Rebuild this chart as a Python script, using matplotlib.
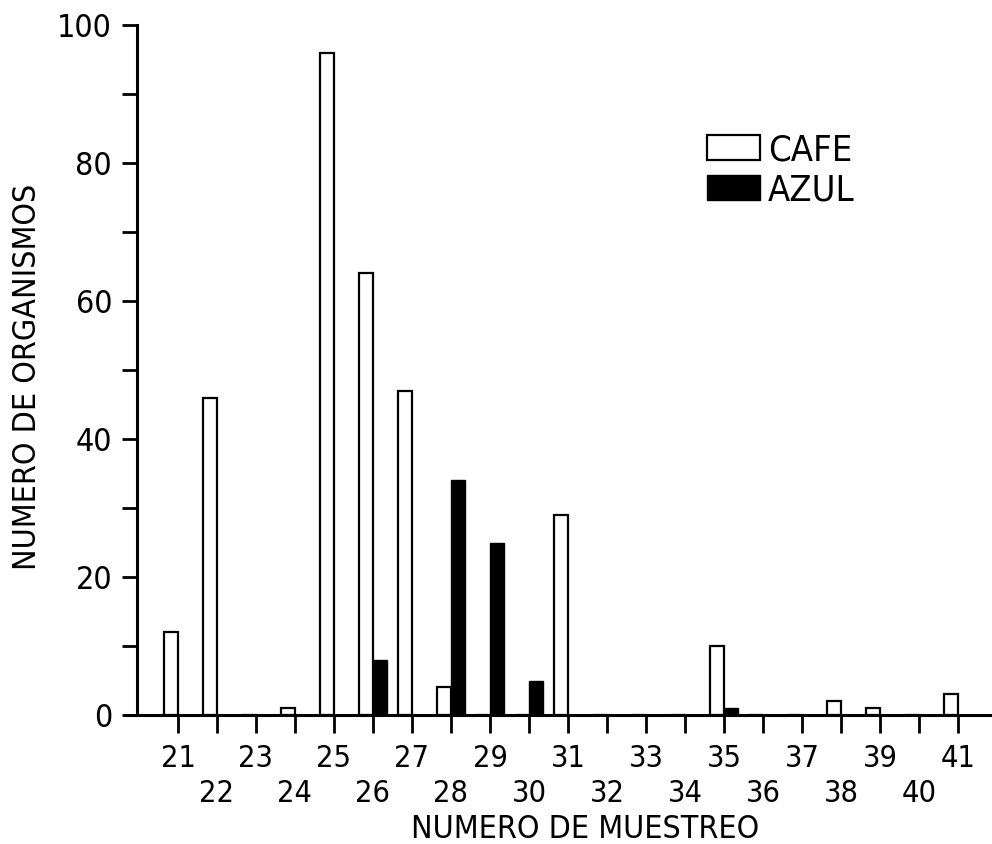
import matplotlib.pyplot as plt
import numpy as np
from matplotlib.patches import Patch

# datos
muestreo = list(range(21, 42))
cafe = [12, 46, 0, 1, 96, 64, 47, 4, 0, 0, 29, 0, 0, 0, 10, 0, 0, 2, 1, 0, 3]
azul = [0, 0, 0, 0, 0, 8, 0, 34, 25, 5, 0, 0, 0, 0, 1, 0, 0, 0, 0, 0, 0]
y_ticks = [0, 20, 40, 60, 80, 100]

plt.rcParams['font.family'] = ['DejaVu Sans']
plt.rcParams['font.stretch'] = 'condensed'

fig = plt.figure(figsize=(9.92, 8.44), dpi=100)
ax = fig.add_axes([137 / 992, 1 - 715 / 844, 1 - 137 / 992, (715 - 25) / 844])

x = np.array(muestreo)
width = 0.37
ax.bar(x - width, cafe, width, align='edge', facecolor='white', edgecolor='black', linewidth=1.6)
ax.bar(x, azul, width, align='edge', facecolor='black', edgecolor='black', linewidth=1.0)

ax.set_xlim(19.95, 41.87)
ax.set_ylim(0, 100)

for s in ['top', 'right']:
    ax.spines[s].set_visible(False)
ax.spines['left'].set_linewidth(2.2)
ax.spines['bottom'].set_linewidth(2.2)
ax.spines['bottom'].set_bounds(19.65, 41.87)

# eje y: mayores con etiqueta, menores sin etiqueta
ax.set_yticks(y_ticks)
ax.set_yticks([10, 30, 50, 70, 90], minor=True)
ax.tick_params(axis='y', which='both', direction='out', length=11, width=2.0, labelsize=23, pad=7)

# eje x: etiquetas escalonadas (impares arriba, pares abajo)
impares = [m for m in muestreo if m % 2 == 1]
pares = [m for m in muestreo if m % 2 == 0]
ax.set_xticks(impares)
ax.set_xticklabels([str(m) for m in impares])
ax.set_xticks(pares, minor=True)
ax.set_xticklabels([str(m) for m in pares], minor=True)
ax.tick_params(axis='x', which='major', direction='out', length=13, width=2.0, labelsize=22, pad=8)
ax.tick_params(axis='x', which='minor', direction='out', length=13, width=2.0, labelsize=22, pad=33)

ax.set_xlabel('NUMERO DE MUESTREO', fontsize=23)
ax.xaxis.set_label_coords(0.524, -0.143)
ax.set_ylabel('NUMERO DE ORGANISMOS', fontsize=23)
ax.yaxis.set_label_coords(-0.11, 0.49)

handles = [Patch(facecolor='white', edgecolor='black', linewidth=1.6, label='CAFE'),
           Patch(facecolor='black', edgecolor='black', label='AZUL')]
fig.legend(handles=handles, loc='upper left', bbox_to_anchor=(689 / 992, 1 - 115 / 844),
           frameon=False, fontsize=26, handlelength=1.47, handleheight=0.69,
           handletextpad=0.22, labelspacing=0.18, borderpad=0)

plt.savefig('out.png', dpi=100)
plt.close()
